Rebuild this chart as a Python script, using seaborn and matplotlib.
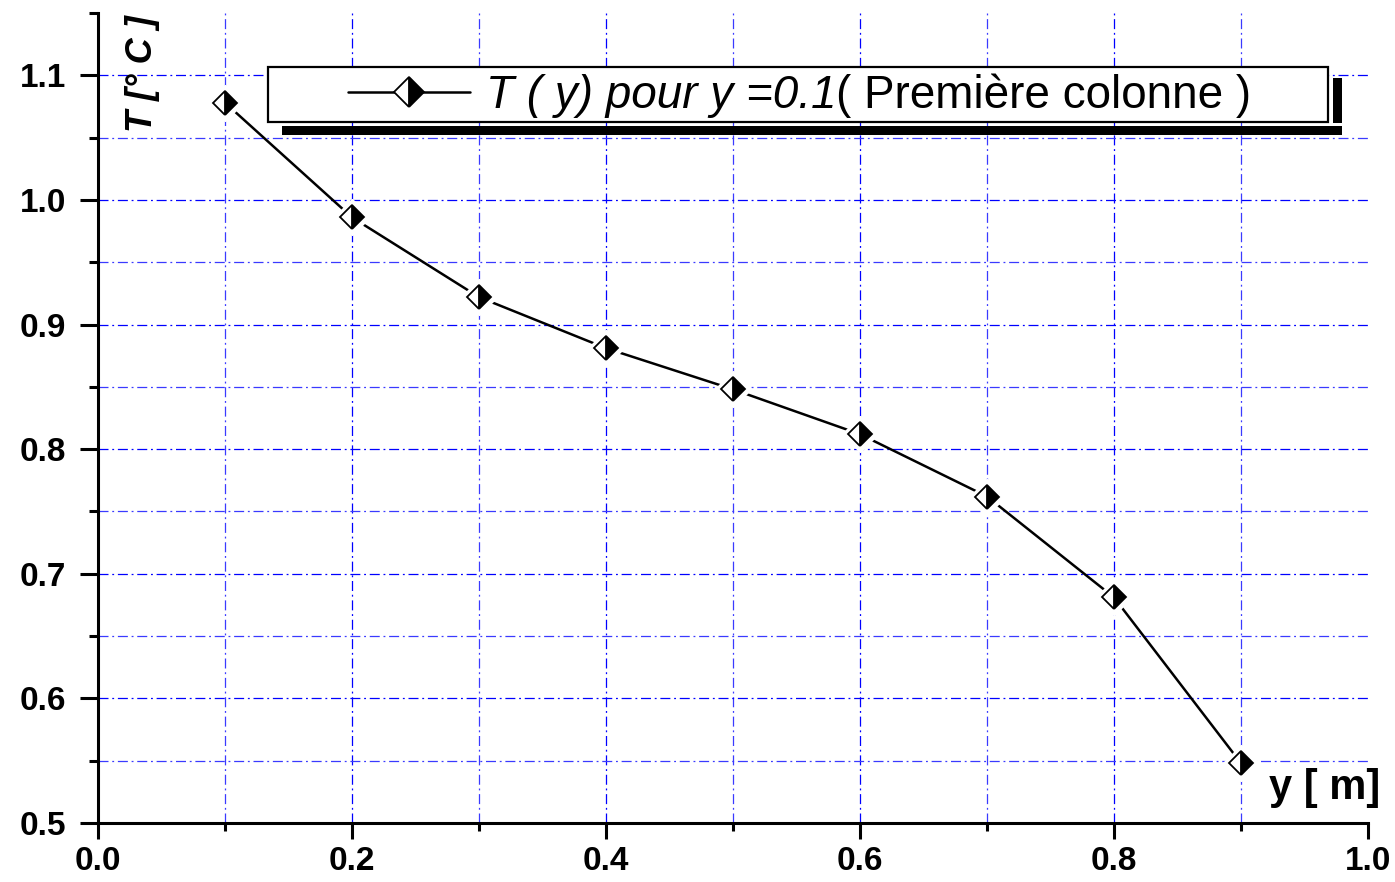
import matplotlib
matplotlib.use("Agg")
import matplotlib.pyplot as plt
import seaborn as sns
import pandas as pd
from matplotlib.lines import Line2D
from matplotlib.patches import Rectangle
from matplotlib.text import Annotation
from matplotlib.ticker import FixedLocator

# Temperature profile along y in the first column
y_pos = [0.1, 0.2, 0.3, 0.4, 0.5, 0.6, 0.7, 0.8, 0.9]
temperature = [1.078, 0.986, 0.922, 0.881, 0.848, 0.812, 0.762, 0.681, 0.548]

x_ticks = [0.0, 0.2, 0.4, 0.6, 0.8, 1.0]
x_tick_labels = ["0.0", "0.2", "0.4", "0.6", "0.8", "1.0"]
x_minor = [0.1, 0.3, 0.5, 0.7, 0.9]
y_ticks = [0.5, 0.6, 0.7, 0.8, 0.9, 1.0, 1.1]
y_tick_labels = ["0.5", "0.6", "0.7", "0.8", "0.9", "1.0", "1.1"]
y_minor = [0.55, 0.65, 0.75, 0.85, 0.95, 1.05, 1.15]

series_label = "T ( y) pour y =0.1"
series_note = "( Première colonne )"
x_label = "y [ m]"
y_label = "T [° C ]"

df = pd.DataFrame({"y": y_pos, "T": temperature})

sns.set_theme(style="ticks")
plt.rcParams["font.family"] = ["Liberation Sans", "DejaVu Sans"]
plt.rcParams["text.color"] = "black"

W, H = 1395, 882
fig = plt.figure(figsize=(W / 100, H / 100), dpi=100)
ax = fig.add_axes([98 / W, 59 / H, 1270 / W, 810 / H])

# line, white halo around the markers, then half-filled diamonds
sns.lineplot(data=df, x="y", y="T", ax=ax, color="black", lw=1.8,
             zorder=3, legend=False)
ax.plot(df["y"], df["T"], ls="none", marker="D", ms=18,
        mfc="white", mec="white", zorder=4)
sns.lineplot(data=df, x="y", y="T", ax=ax, ls="none", marker="D",
             markersize=12, fillstyle="right", markerfacecolor="black",
             markerfacecoloralt="white", markeredgecolor="black",
             markeredgewidth=1.3, zorder=5, legend=False)

ax.set_xlim(0.0, 1.0)
ax.set_ylim(0.5, 1.15)
ax.xaxis.set_major_locator(FixedLocator(x_ticks))
ax.xaxis.set_minor_locator(FixedLocator(x_minor))
ax.yaxis.set_major_locator(FixedLocator(y_ticks))
ax.yaxis.set_minor_locator(FixedLocator(y_minor))
ax.set_xticklabels(x_tick_labels)
ax.set_yticklabels(y_tick_labels)
ax.set_xlabel("")
ax.set_ylabel("")

for lab in ax.get_xticklabels() + ax.get_yticklabels():
    lab.set_fontweight("bold")
    lab.set_fontsize(24)
    lab.set_color("black")

ax.tick_params(axis="x", which="major", length=11.5, width=2.2, pad=5, color="black")
ax.tick_params(axis="x", which="minor", length=6, width=2.2, color="black")
ax.tick_params(axis="y", which="major", length=13, width=2.2, pad=10, color="black")
ax.tick_params(axis="y", which="minor", length=6.5, width=2.2, color="black")

sns.despine(ax=ax)
for side in ("left", "bottom"):
    ax.spines[side].set_linewidth(2.2)
    ax.spines[side].set_color("black")

dash = (0, (8, 3, 1.5, 3))
ax.grid(True, which="major", color="#0000ff", lw=0.9, ls=dash)
ax.grid(True, which="minor", color="#3a3aff", lw=0.9, ls=dash)
ax.set_axisbelow(True)
ax.xaxis.get_major_ticks()[-1].gridline.set_visible(False)
ax.yaxis.get_minor_ticks()[-1].gridline.set_visible(False)

ax.text(0.035, 0.9975, y_label, transform=ax.transAxes, rotation=90,
        ha="center", va="top", fontsize=26, fontweight="bold", style="italic",
        color="black")
ax.text(1.0094, 0.043, x_label, transform=ax.transAxes, ha="right",
        va="center", fontsize=30, fontweight="bold", clip_on=False,
        color="black")

# legend box with its offset shadow bars
fig.add_artist(Rectangle((282 / W, 1 - 135 / H), 1060 / W, 9 / H,
                         transform=fig.transFigure, color="black", lw=0))
fig.add_artist(Rectangle((1333 / W, 1 - 123 / H), 9 / W, 45 / H,
                         transform=fig.transFigure, color="black", lw=0))
fig.add_artist(Rectangle((268 / W, 1 - 122 / H), 1060 / W, 55 / H,
                         transform=fig.transFigure, facecolor="white",
                         edgecolor="black", lw=1.6))

handle = Line2D([], [], color="black", lw=1.8, marker="D", markersize=15,
                fillstyle="right", markerfacecolor="black",
                markerfacecoloralt="white", markeredgecolor="black",
                markeredgewidth=1.3)
leg = fig.legend([handle], [series_label], loc="center left",
                 bbox_to_anchor=(348 / W, 1 - 96 / H), frameon=False,
                 prop={"size": 33, "style": "italic"}, handlelength=2.67,
                 handletextpad=0.33, borderpad=0.0, borderaxespad=0.0)
leg.set_zorder(10)
leg_text = leg.get_texts()[0]
note = fig.add_artist(Annotation(
    series_note, xy=(1.0, 0.0), xycoords=leg_text, ha="left", va="bottom",
    fontsize=33, color="black"))
note.set_zorder(11)

fig.savefig("out.png", dpi=100)
